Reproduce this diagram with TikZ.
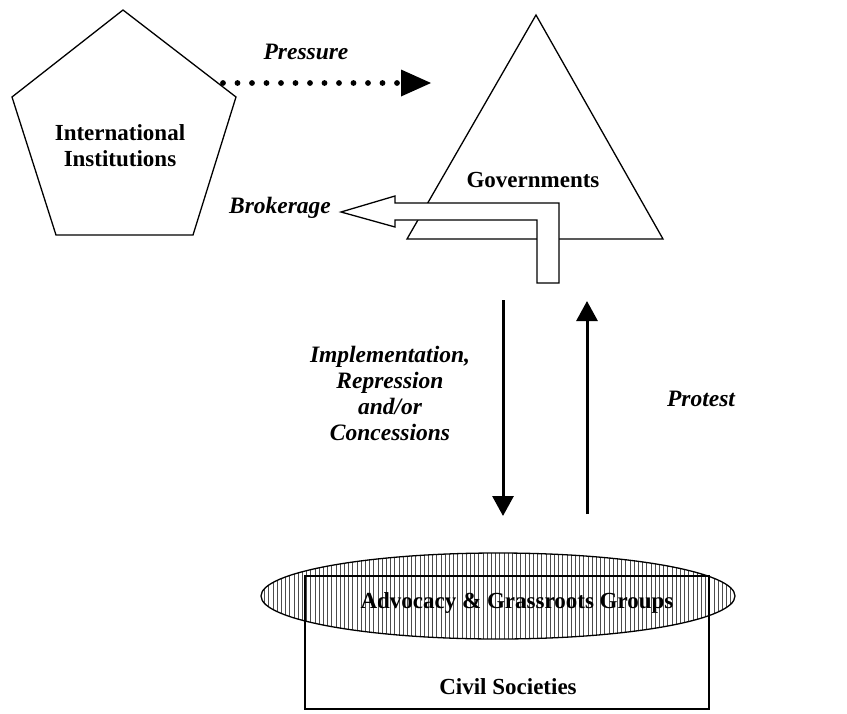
\documentclass[tikz,border=0pt]{standalone}
\usepackage{fontspec}
\setmainfont{Liberation Serif}
\usetikzlibrary{arrows.meta,patterns.meta,calc}
\begin{document}
\begin{tikzpicture}[x=1pt,y=-1pt,
  shapeline/.style={draw=black,line width=1.3pt,line join=miter},
  lbl/.style={font=\fontsize{23}{26}\selectfont\bfseries, inner sep=0pt, align=center},
  ilbl/.style={font=\fontsize{23.5}{26}\selectfont\bfseries\itshape, inner sep=0pt, align=center},
  thickarrow/.style={line width=3pt,-{Triangle[length=20pt,width=21pt]}},
  dotline/.style={line width=5.8pt,line cap=round,dash pattern=on 0pt off 14.5pt},
]
\useasboundingbox (0,0) rectangle (847,713);

% International Institutions (pentagon)
\draw[shapeline] (123,10) -- (236,97) -- (193,235) -- (56,235) -- (12,97) -- cycle;
\node[lbl] (intl) at (120,146) {International\\Institutions};

% Governments (triangle)
\draw[shapeline] (536,15) -- (663,239) -- (407,239) -- cycle;
\node[lbl] (gov) at (533,180) {Governments};

% Pressure
\coordinate (pstart) at (223,83);
\coordinate (pdots) at (398,83);
\coordinate (phead) at (401,83);
\coordinate (ptip) at (431,83);
\draw[dotline] (pstart) -- (pdots);
\fill ($(phead)+(0,-13.5)$) -- (ptip) -- ($(phead)+(0,13.5)$) -- cycle;
\node[ilbl] (pressure) at (306,52) {Pressure};

% Brokerage hollow L-arrow
\draw[shapeline, fill=white] (341,212) -- (395,196) -- (395,203) -- (559,203) -- (559,283)
  -- (537,283) -- (537,220) -- (395,220) -- (395,227) -- cycle;
\node[ilbl] (brokerage) at (280,208) {Brokerage};

% Vertical arrows
\coordinate (dtop) at (503,300);
\coordinate (dbot) at (503,516);
\coordinate (ubot) at (587,514);
\coordinate (utop) at (587,301);
\draw[thickarrow] (dtop) -- (dbot);
\draw[thickarrow] (ubot) -- (utop);
\node[ilbl] (impl) at (390,393) {Implementation,\\Repression\\and/or\\Concessions};
\node[ilbl] (protest) at (701,399) {Protest};

% Civil society
\draw[line width=1.3pt, pattern={Lines[angle=90,distance=4.2pt,line width=1pt]}, pattern color=black!70]
  (498,596) ellipse [x radius=237pt, y radius=43pt];
\draw[line width=1.1pt] (305,576) rectangle (709,709);
\node[lbl] (groups) at (517,603) {Advocacy \& Grassroots Groups};
\node[lbl] (civil) at (508,687) {Civil Societies};
\end{tikzpicture}
\end{document}
